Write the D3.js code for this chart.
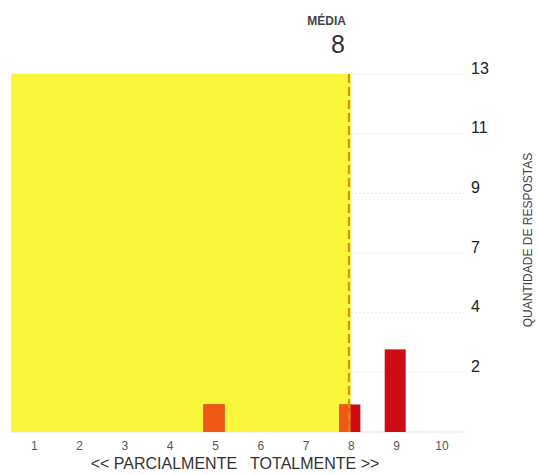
<!DOCTYPE html>
<html><head><meta charset="utf-8">
<script src="https://cdn.jsdelivr.net/npm/d3@7"></script>
<style>body{margin:0;background:#fff}svg{display:block}</style>
</head><body>
<script>
const categories = [1,2,3,4,5,6,7,8,9,10];
const counts = [0,0,0,0,1,0,0,1,3,0];
const yTickValues = [13*1/6,13*2/6,13*3/6,13*4/6,13*5/6,13];
const yTickLabels = ["2","4","7","9","11","13"];
const meanValue = 8;
const yMax = 13;

const W = 539, H = 474;
const svg = d3.select("body").append("svg").attr("width", W).attr("height", H);

const x = d3.scaleLinear().domain([5, 10]).range([215, 441.5]);
const y = d3.scaleLinear().domain([0, yMax]).range([432, 74]);
const barW = 21;
const FF = "Liberation Sans, Arial, sans-serif";

// faint gridlines
svg.append("g").selectAll("line").data(yTickValues).join("line")
  .attr("x1", x(0.5)).attr("x2", x(10.5))
  .attr("y1", d => y(d)).attr("y2", d => y(d))
  .attr("stroke", "#e6e6e6").attr("stroke-width", 1).attr("stroke-dasharray", "2,2");
svg.append("line").attr("x1", x(0.5)).attr("x2", x(10.5)).attr("y1", y(0)).attr("y2", y(0))
  .attr("stroke", "#e2e2e2").attr("stroke-width", 1);

// yellow region up to mean
svg.append("rect").attr("x", x(0.5)).attr("y", y(yMax))
  .attr("width", x(meanValue) - x(0.5)).attr("height", y(0) - y(yMax))
  .attr("fill", "#f9f53a");

const data = categories.map((c, i) => ({c, v: counts[i]})).filter(d => d.v > 0);

// red bars
svg.append("g").selectAll("rect").data(data).join("rect")
  .attr("x", d => x(d.c) - barW/2 - 1).attr("y", d => y(d.v))
  .attr("width", barW).attr("height", d => y(0) - y(d.v))
  .attr("fill", "#cc0e14");

// orange portion inside yellow region
svg.append("clipPath").attr("id", "yel").append("rect")
  .attr("x", x(0.5)).attr("y", y(yMax))
  .attr("width", x(meanValue) - x(0.5)).attr("height", y(0) - y(yMax));
svg.append("g").attr("clip-path", "url(#yel)").selectAll("rect").data(data).join("rect")
  .attr("x", d => x(d.c) - barW/2 - 1).attr("y", d => y(d.v))
  .attr("width", barW).attr("height", d => y(0) - y(d.v))
  .attr("fill", "#ee5a14");

// mean line
svg.append("line").attr("x1", x(meanValue) - 2).attr("x2", x(meanValue) - 2)
  .attr("y1", y(yMax)).attr("y2", y(0))
  .attr("stroke", "#d9861a").attr("stroke-width", 2).attr("stroke-dasharray", "9,4");

svg.append("text").attr("x", x(meanValue) - 5).attr("y", 25).attr("text-anchor", "end")
  .attr("font-family", FF).attr("font-weight", "bold")
  .attr("font-size", 12).attr("fill", "#444").text("MÉDIA");
svg.append("text").attr("x", x(meanValue) - 6).attr("y", 53).attr("text-anchor", "end")
  .attr("font-family", FF)
  .attr("font-size", 25).attr("fill", "#333").text(meanValue);

// x axis
const xAxis = d3.axisBottom(x).tickValues(categories).tickSize(0).tickPadding(0)
  .tickFormat(d => d);
const gx = svg.append("g").attr("transform", `translate(0,${y(0) + 18})`).call(xAxis);
gx.select(".domain").remove();
gx.selectAll("text").attr("font-family", FF)
  .attr("font-size", 12).attr("fill", "#555").attr("dy", 0);

// y axis on right
const yAxis = d3.axisRight(y).tickValues(yTickValues).tickSize(0).tickPadding(0)
  .tickFormat((d, i) => yTickLabels[i]);
const gy = svg.append("g").attr("transform", `translate(471,0)`).call(yAxis);
gy.select(".domain").remove();
gy.selectAll("text").attr("font-family", FF)
  .attr("font-size", 16).attr("fill", "#222").attr("dy", "-0.05em");

svg.append("text").attr("x", 235).attr("y", 469).attr("text-anchor", "middle")
  .attr("font-family", FF).attr("font-size", 16)
  .attr("fill", "#333").attr("xml:space", "preserve").text("<< PARCIALMENTE   TOTALMENTE >>");

svg.append("text").attr("transform", "translate(532,240) rotate(-90)").attr("text-anchor", "middle")
  .attr("font-family", FF).attr("font-size", 12)
  .attr("fill", "#444").text("QUANTIDADE DE RESPOSTAS");
</script>
</body></html>
